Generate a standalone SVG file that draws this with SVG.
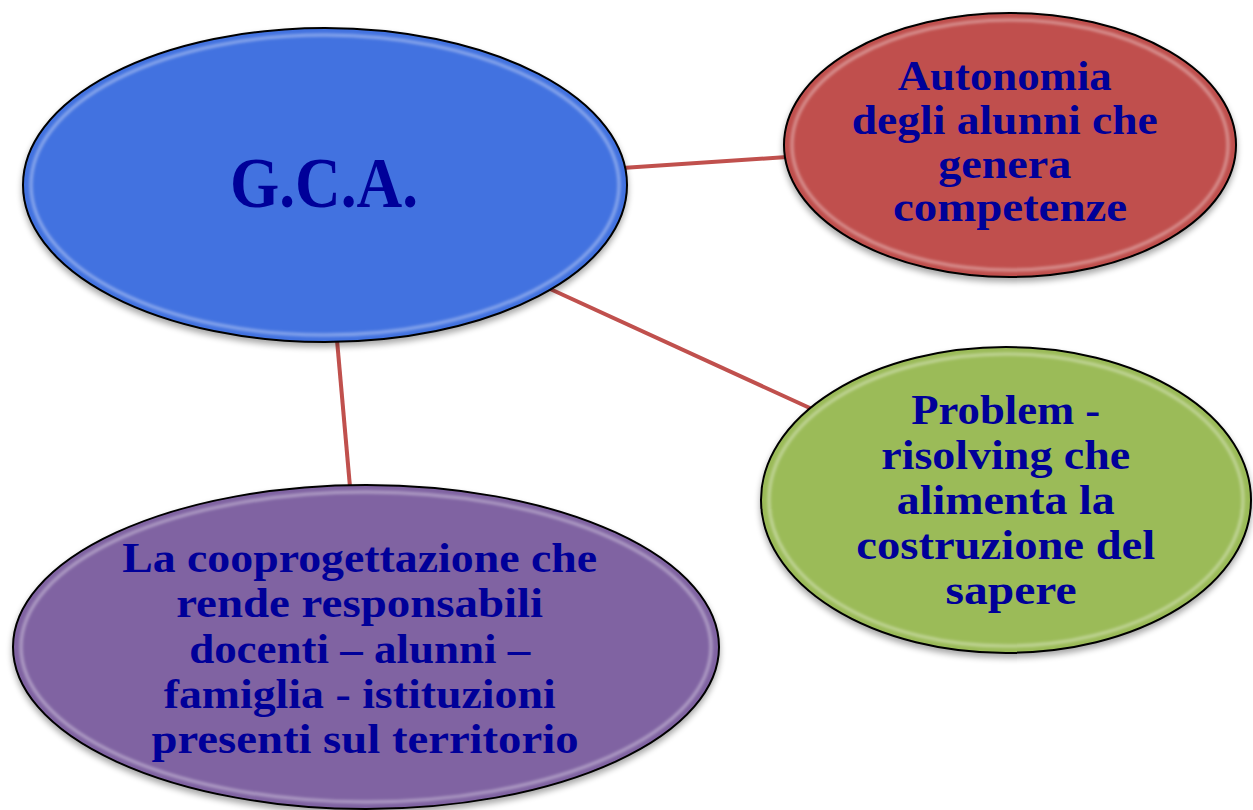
<svg xmlns="http://www.w3.org/2000/svg" width="1253" height="810" viewBox="0 0 1253 810">
<style>
.node-shape{stroke:#000;stroke-width:2}
.rim{fill:none;stroke:#fff;stroke-opacity:0.4;stroke-width:3;filter:url(#soft)}
.lbl{font-family:"Liberation Serif","DejaVu Serif",serif;font-weight:bold;fill:#000099;text-anchor:middle}
.conn{stroke:#c0504d;stroke-width:4;fill:none}
</style>
<defs>
<filter id="soft" x="-5%" y="-5%" width="110%" height="110%"><feGaussianBlur stdDeviation="1.5"/></filter>
<filter id="shadow" x="-10%" y="-10%" width="120%" height="125%">
<feGaussianBlur in="SourceAlpha" stdDeviation="3"/>
<feOffset dx="0" dy="4" result="b"/>
<feComponentTransfer><feFuncA type="linear" slope="0.35"/></feComponentTransfer>
<feMerge><feMergeNode/><feMergeNode in="SourceGraphic"/></feMerge>
</filter>
</defs>
<rect width="1253" height="810" fill="#fff"/>
<g id="connectors">
<line class="conn" x1="622" y1="168" x2="787" y2="157"/>
<line class="conn" x1="548" y1="288" x2="812" y2="409"/>
<line class="conn" x1="337" y1="340" x2="350" y2="487"/>
</g>
<g id="gca">
<ellipse class="node-shape" cx="325" cy="185" rx="302" ry="157" fill="#4272e0" filter="url(#shadow)"/>
<ellipse class="rim" cx="325" cy="185" rx="294" ry="150"/>
<text class="lbl" x="324" y="207" font-size="72" textLength="188" lengthAdjust="spacingAndGlyphs">G.C.A.</text>
</g>
<g id="autonomia">
<ellipse class="node-shape" cx="1010" cy="145" rx="226" ry="132" fill="#c0504d" filter="url(#shadow)"/>
<ellipse class="rim" cx="1010" cy="145" rx="218" ry="125"/>
<text class="lbl" font-size="42">
<tspan x="1010" y="90" textLength="214" lengthAdjust="spacingAndGlyphs">Autonomia</tspan>
<tspan x="1010" y="134" textLength="306" lengthAdjust="spacingAndGlyphs">degli alunni che</tspan>
<tspan x="1010" y="178" textLength="133" lengthAdjust="spacingAndGlyphs">genera</tspan>
<tspan x="1010" y="221" textLength="234" lengthAdjust="spacingAndGlyphs">competenze</tspan>
</text>
</g>
<g id="problem">
<ellipse class="node-shape" cx="1006" cy="500" rx="245" ry="153" fill="#9bbb59" filter="url(#shadow)"/>
<ellipse class="rim" cx="1006" cy="500" rx="237" ry="146"/>
<text class="lbl" font-size="42">
<tspan x="1011" y="424" textLength="189" lengthAdjust="spacingAndGlyphs">Problem -</tspan>
<tspan x="1011" y="469" textLength="249" lengthAdjust="spacingAndGlyphs">risolving che</tspan>
<tspan x="1011" y="514" textLength="218" lengthAdjust="spacingAndGlyphs">alimenta la</tspan>
<tspan x="1011" y="559" textLength="299" lengthAdjust="spacingAndGlyphs">costruzione del</tspan>
<tspan x="1011" y="604" textLength="131" lengthAdjust="spacingAndGlyphs">sapere</tspan>
</text>
</g>
<g id="cooprogettazione">
<ellipse class="node-shape" cx="366" cy="647" rx="353" ry="162" fill="#8064a2" filter="url(#shadow)"/>
<ellipse class="rim" cx="366" cy="647" rx="345" ry="155"/>
<text class="lbl" font-size="43">
<tspan x="365" y="572" textLength="475" lengthAdjust="spacingAndGlyphs">La cooprogettazione che</tspan>
<tspan x="365" y="617" textLength="367" lengthAdjust="spacingAndGlyphs">rende responsabili</tspan>
<tspan x="365" y="663" textLength="341" lengthAdjust="spacingAndGlyphs">docenti – alunni –</tspan>
<tspan x="365" y="708" textLength="392" lengthAdjust="spacingAndGlyphs">famiglia - istituzioni</tspan>
<tspan x="365" y="753" textLength="427" lengthAdjust="spacingAndGlyphs">presenti sul territorio</tspan>
</text>
</g>
</svg>
